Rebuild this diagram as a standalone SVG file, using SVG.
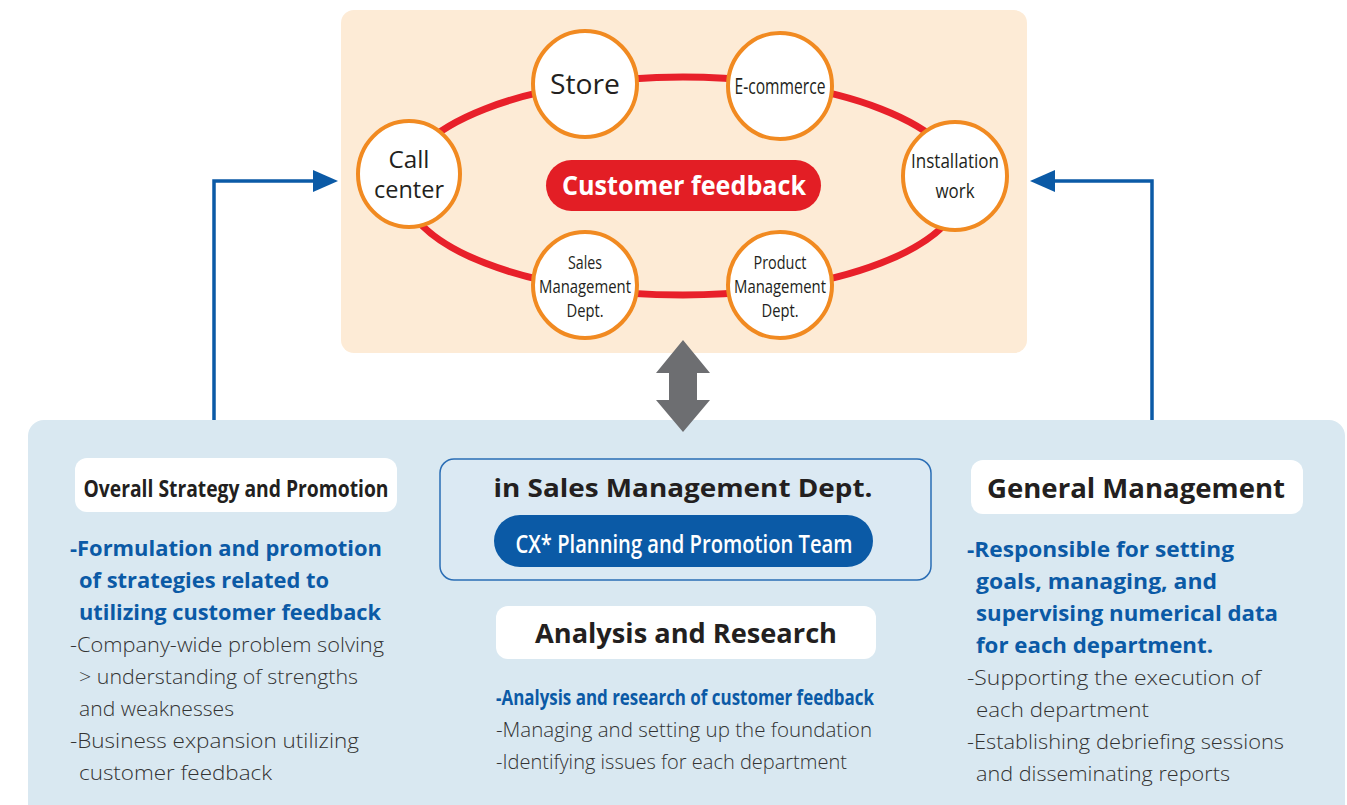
<svg xmlns="http://www.w3.org/2000/svg" width="1347" height="805" viewBox="0 0 1347 805">
<style>
text{font-family:"Open Sans","Noto Sans","Liberation Sans",sans-serif;fill:#231f20}
.c{text-anchor:middle}
.b{font-weight:bold}
.blue{fill:#0b5aa6;font-weight:bold;font-size:22px}
.gray{fill:#333;font-size:21px;font-weight:300}
.node{fill:#fff;stroke:#f18a21;stroke-width:4}
.wbox{fill:#fff}
.w{fill:#fff}
</style>
<rect width="1347" height="805" fill="#fff"/>
<rect x="341" y="10" width="686" height="343" rx="13" fill="#fdebd6"/>
<rect x="28" y="420" width="1317" height="400" rx="16" fill="#d9e8f1"/>

<g id="connectors">
<ellipse cx="683" cy="186" rx="280" ry="109" fill="none" stroke="#e8202a" stroke-width="7"/>
<polyline points="214,420 214,181 314,181" fill="none" stroke="#0b5aa6" stroke-width="3.5"/>
<path d="M313,170 L338,181 L313,192 Z" fill="#0b5aa6"/>
<polyline points="1152,420 1152,181 1052,181" fill="none" stroke="#0b5aa6" stroke-width="3.5"/>
<path d="M1055,170 L1030,181 L1055,192 Z" fill="#0b5aa6"/>
<path d="M683,340 L710,373 L697,373 L697,400 L710,400 L683,432 L656,400 L669,400 L669,373 L656,373 Z" fill="#6d6e71"/>
</g>

<g id="feedback">
<rect x="546" y="160" width="275" height="51" rx="25.5" fill="#e31e25"/>
<text class="c b w" x="684" y="195" font-size="27" textLength="244" lengthAdjust="spacingAndGlyphs">Customer feedback</text>
</g>
<g id="store">
<ellipse class="node" cx="585" cy="84" rx="52" ry="53"/>
<text class="c" x="585" y="94" font-size="27" textLength="70" lengthAdjust="spacingAndGlyphs">Store</text>
</g>
<g id="ecommerce">
<ellipse class="node" cx="780" cy="86" rx="52" ry="53"/>
<text class="c" x="780" y="94" font-size="21" textLength="91" lengthAdjust="spacingAndGlyphs">E-commerce</text>
</g>
<g id="callcenter">
<ellipse class="node" cx="409" cy="174" rx="51" ry="53"/>
<text class="c" x="409" y="168" font-size="23" textLength="41" lengthAdjust="spacingAndGlyphs">Call</text>
<text class="c" x="409" y="198" font-size="23" textLength="70" lengthAdjust="spacingAndGlyphs">center</text>
</g>
<g id="installation">
<ellipse class="node" cx="955" cy="176" rx="52" ry="54"/>
<text class="c" x="955" y="168" font-size="20" textLength="88" lengthAdjust="spacingAndGlyphs">Installation</text>
<text class="c" x="955" y="198" font-size="20" textLength="39" lengthAdjust="spacingAndGlyphs">work</text>
</g>
<g id="salesmgmt">
<ellipse class="node" cx="585" cy="285" rx="52" ry="53"/>
<text class="c" x="585" y="269" font-size="18" textLength="34" lengthAdjust="spacingAndGlyphs">Sales</text>
<text class="c" x="585" y="293" font-size="18" textLength="92" lengthAdjust="spacingAndGlyphs">Management</text>
<text class="c" x="585" y="317" font-size="18" textLength="37" lengthAdjust="spacingAndGlyphs">Dept.</text>
</g>
<g id="productmgmt">
<ellipse class="node" cx="780" cy="285" rx="52" ry="53"/>
<text class="c" x="780" y="269" font-size="18" textLength="53" lengthAdjust="spacingAndGlyphs">Product</text>
<text class="c" x="780" y="293" font-size="18" textLength="92" lengthAdjust="spacingAndGlyphs">Management</text>
<text class="c" x="780" y="317" font-size="18" textLength="37" lengthAdjust="spacingAndGlyphs">Dept.</text>
</g>

<g id="overall">
<rect class="wbox" x="75" y="458" width="322" height="54" rx="12"/>
<text class="c b" x="236" y="497" font-size="23" textLength="305" lengthAdjust="spacingAndGlyphs">Overall Strategy and Promotion</text>
<text class="blue" x="70" y="556" textLength="312" lengthAdjust="spacingAndGlyphs">-Formulation and promotion</text>
<text class="blue" x="79" y="588" textLength="250" lengthAdjust="spacingAndGlyphs">of strategies related to</text>
<text class="blue" x="79" y="620" textLength="302" lengthAdjust="spacingAndGlyphs">utilizing customer feedback</text>
<text class="gray" x="70" y="652" textLength="314" lengthAdjust="spacingAndGlyphs">-Company-wide problem solving</text>
<text class="gray" x="79" y="684" textLength="279" lengthAdjust="spacingAndGlyphs">&gt; understanding of strengths</text>
<text class="gray" x="79" y="716" textLength="155" lengthAdjust="spacingAndGlyphs">and weaknesses</text>
<text class="gray" x="70" y="748" textLength="289" lengthAdjust="spacingAndGlyphs">-Business expansion utilizing</text>
<text class="gray" x="79" y="780" textLength="193" lengthAdjust="spacingAndGlyphs">customer feedback</text>
</g>

<g id="cxteam">
<rect x="440" y="459" width="491" height="121" rx="14" fill="#dbe9f3" stroke="#2a6db5" stroke-width="1.5"/>
<text class="c b" x="683" y="497" font-size="25" textLength="379" lengthAdjust="spacingAndGlyphs">in Sales Management Dept.</text>
<rect x="494" y="515" width="379" height="52" rx="26" fill="#0b5aa6"/>
<text class="c w" x="684" y="553" font-size="25" font-weight="600" textLength="337" lengthAdjust="spacingAndGlyphs">CX* Planning and Promotion Team</text>
</g>

<g id="analysis">
<rect class="wbox" x="496" y="606" width="380" height="53" rx="12"/>
<text class="c b" x="686" y="643" font-size="26" textLength="302" lengthAdjust="spacingAndGlyphs">Analysis and Research</text>
<text class="blue" x="496" y="705" font-size="21" textLength="378" lengthAdjust="spacingAndGlyphs">-Analysis and research of customer feedback</text>
<text class="gray" x="496" y="737" textLength="376" lengthAdjust="spacingAndGlyphs">-Managing and setting up the foundation</text>
<text class="gray" x="496" y="769" textLength="351" lengthAdjust="spacingAndGlyphs">-Identifying issues for each department</text>
</g>

<g id="general">
<rect class="wbox" x="971" y="460" width="332" height="54" rx="12"/>
<text class="c b" x="1136" y="498" font-size="26" textLength="298" lengthAdjust="spacingAndGlyphs">General Management</text>
<text class="blue" x="967" y="557" textLength="267" lengthAdjust="spacingAndGlyphs">-Responsible for setting</text>
<text class="blue" x="976" y="589" textLength="241" lengthAdjust="spacingAndGlyphs">goals, managing, and</text>
<text class="blue" x="976" y="621" textLength="302" lengthAdjust="spacingAndGlyphs">supervising numerical data</text>
<text class="blue" x="976" y="653" textLength="237" lengthAdjust="spacingAndGlyphs">for each department.</text>
<text class="gray" x="967" y="685" textLength="294" lengthAdjust="spacingAndGlyphs">-Supporting the execution of</text>
<text class="gray" x="976" y="717" textLength="173" lengthAdjust="spacingAndGlyphs">each department</text>
<text class="gray" x="967" y="749" textLength="317" lengthAdjust="spacingAndGlyphs">-Establishing debriefing sessions</text>
<text class="gray" x="976" y="781" textLength="254" lengthAdjust="spacingAndGlyphs">and disseminating reports</text>
</g>
</svg>
